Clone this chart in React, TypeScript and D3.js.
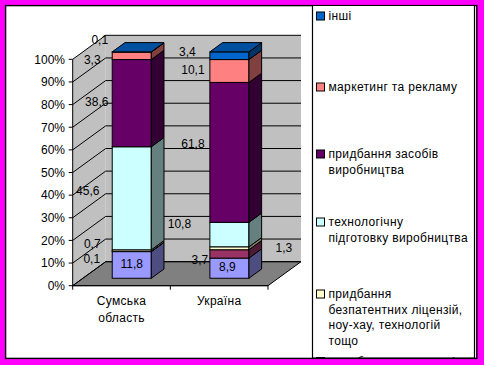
import React from 'react';
import * as d3 from 'd3';

// data (bottom of stack first)
const categories = ['Сумська область', 'Україна'];
const seriesNames = [
  'дослідження і розробки',
  'придбання результатів досліджень',
  'придбання безпатентних ліцензій, ноу-хау, технологій тощо',
  'технологічну підготовку виробництва',
  'придбання засобів виробництва',
  'маркетинг та рекламу',
  'інші',
];
const seriesColors = ['#9999FF', '#993366', '#FFFFCC', '#CCFFFF', '#660066', '#FF8080', '#0066CC'];
const sumyValues = [11.8, 0.1, 0.7, 45.6, 38.6, 3.3, 0.1];
const ukraineValues = [8.9, 3.7, 1.3, 10.8, 61.8, 10.1, 3.4];
const yTicks = [0, 10, 20, 30, 40, 50, 60, 70, 80, 90, 100];

// legend lines, top entry first
const legendLines = [
  ['інші'],
  ['маркетинг та рекламу'],
  ['придбання засобів', 'виробництва'],
  ['технологічну', 'підготовку виробництва'],
  ['придбання', 'безпатентних ліцензій,', 'ноу-хау, технологій', 'тощо'],
  ['придбання результатів', 'досліджень'],
  ['дослідження і', 'розробки'],
];
const legendTop = [16, 87, 154, 222, 294, 361.5, 430];

// label nudges (text centre relative to bar front centre / segment middle)
const labelShift = [
  [[0, -1], [-40, 7.5], [-39.5, -7.3], [-44, -7.7], [-35, -1.6], [-39.5, 4], [-32, -12]],
  [[-2, -1.5], [-29.5, 6], [54.5, -1], [-50, -11], [-36.5, -8.5], [-36.5, -1], [-42, -4]],
];

const W = 484;
const H = 365;
const FONT = '"Liberation Sans", Arial, sans-serif';
const depth = { x: 33, y: -24 };
const off = { x: depth.x * 0.31, y: depth.y * 0.31 };
const bd = { x: depth.x * 0.385, y: depth.y * 0.385 };

const x = d3.scaleBand().domain(categories).range([72.7, 268]).paddingInner(0.6).paddingOuter(0.3);
const y = d3.scaleLinear().domain([0, 100]).range([285.7, 59.3]);

const rows = categories.map((c, i) => {
  const vals = i === 0 ? sumyValues : ukraineValues;
  const r: any = { cat: c };
  seriesNames.forEach((s, j) => (r[s] = vals[j]));
  return r;
});
const stacked = d3.stack().keys(seriesNames).offset(d3.stackOffsetExpand)(rows);

const pts = (p: number[][]) => p.map((q) => q.join(',')).join(' ');
const fmt = (v: number) => String(v).replace('.', ',');
const shade = (c: string, k: number) => {
  const r = d3.rgb(c);
  return d3.rgb(r.r * k, r.g * k, r.b * k).formatHex();
};

export default function App() {
  const x0 = y.range()[0];
  const xl = x.range()[0];
  const xr = x.range()[1];

  const bars: any[] = [];
  const labels: any[] = [];
  categories.forEach((c, ci) => {
    const fx0 = (x(c) as number) + off.x;
    const fx1 = fx0 + x.bandwidth();
    stacked.forEach((layer, si) => {
      const d = layer[ci];
      const yb = y(d[0] * 100) + off.y;
      const yt = y(d[1] * 100) + off.y;
      const col = seriesColors[si];
      bars.push(
        <g key={`${ci}-${si}`} stroke="#000" strokeWidth={1}>
          <rect x={fx0} y={yt} width={fx1 - fx0} height={yb - yt} fill={col} />
          <polygon
            fill={shade(col, 0.5)}
            points={pts([[fx1, yb], [fx1 + bd.x, yb + bd.y], [fx1 + bd.x, yt + bd.y], [fx1, yt]])}
          />
          {si === stacked.length - 1 && (
            <polygon
              fill={shade(col, 0.78)}
              points={pts([[fx0, yt], [fx1, yt], [fx1 + bd.x, yt + bd.y], [fx0 + bd.x, yt + bd.y]])}
            />
          )}
        </g>
      );
      const vals = ci === 0 ? sumyValues : ukraineValues;
      const [dx, dy] = labelShift[ci][si];
      labels.push(
        <text key={`l${ci}-${si}`} x={(fx0 + fx1) / 2 + dx} y={(yb + yt) / 2 + dy + 4.3} textAnchor="middle">
          {fmt(vals[si])}
        </text>
      );
    });
  });

  return (
    <svg width={W} height={H} style={{ position: 'absolute', left: 0, top: 0 }} fontFamily={FONT} fontSize={12}>
      <defs>
        <clipPath id="area">
          <rect x={6} y={6} width={470} height={352} />
        </clipPath>
      </defs>
      <rect width={W} height={H} fill="#FF00FF" />
      <rect x={5.6} y={5.6} width={471.2} height={352.8} fill="#fff" stroke="#000" strokeWidth={1.4} />

      {/* walls */}
      <polygon
        fill="#C0C0C0"
        points={pts([[xl, y(0)], [xl, y(100)], [xl + depth.x, y(100) + depth.y], [xl + depth.x, y(0) + depth.y]])}
      />
      <rect x={xl + depth.x} y={y(100) + depth.y} width={xr - xl} height={y(0) - y(100)} fill="#C0C0C0" />
      <polygon
        fill="#808080"
        stroke="#000"
        strokeWidth={1}
        points={pts([[xl, x0], [xr, x0], [xr + depth.x, x0 + depth.y], [xl + depth.x, x0 + depth.y]])}
      />
      {yTicks.map((t) => (
        <g key={t} stroke="#000" strokeWidth={1}>
          <line x1={xl} y1={y(t)} x2={xl + depth.x} y2={y(t) + depth.y} />
          <line x1={xl + depth.x} y1={y(t) + depth.y} x2={xr + depth.x} y2={y(t) + depth.y} />
          <line x1={xl - 4} y1={y(t)} x2={xl} y2={y(t)} />
        </g>
      ))}
      <line x1={xl} y1={y(0)} x2={xl} y2={y(100)} stroke="#000" />
      <line x1={xl} y1={x0} x2={xr} y2={x0} stroke="#000" />
      {[xl, xl + x.step(), xr].map((p, i) => (
        <line key={i} x1={p} y1={x0} x2={p} y2={x0 + 4} stroke="#000" />
      ))}

      {bars}
      <g fill="#000">{labels}</g>

      {yTicks.map((t) => (
        <text key={t} x={65} y={y(t) + 4.3} textAnchor="end">
          {t}%
        </text>
      ))}
      {categories.map((c) => (
        <text key={c} x={(x(c) as number) + x.bandwidth() / 2} y={305} textAnchor="middle" letterSpacing={0.3}>
          {c.split(' ').map((w, i) => (
            <tspan key={i} x={(x(c) as number) + x.bandwidth() / 2} dy={i === 0 ? 0 : 17}>
              {w}
            </tspan>
          ))}
        </text>
      ))}

      {/* legend */}
      <g clipPath="url(#area)">
        <rect x={312.5} y={-5} width={162} height={363} fill="#fff" stroke="#000" strokeWidth={1.2} />
        {legendLines.map((lines, i) => (
          <g key={i}>
            <rect x={316.5} y={legendTop[i] - 4} width={8} height={8} fill={seriesColors[seriesColors.length - 1 - i]} stroke="#000" />
            {lines.map((ln, k) => (
              <text key={k} x={328.5} y={legendTop[i] + 4.3 + k * 15.4} letterSpacing={0.35}>
                {ln}
              </text>
            ))}
          </g>
        ))}
      </g>
    </svg>
  );
}
